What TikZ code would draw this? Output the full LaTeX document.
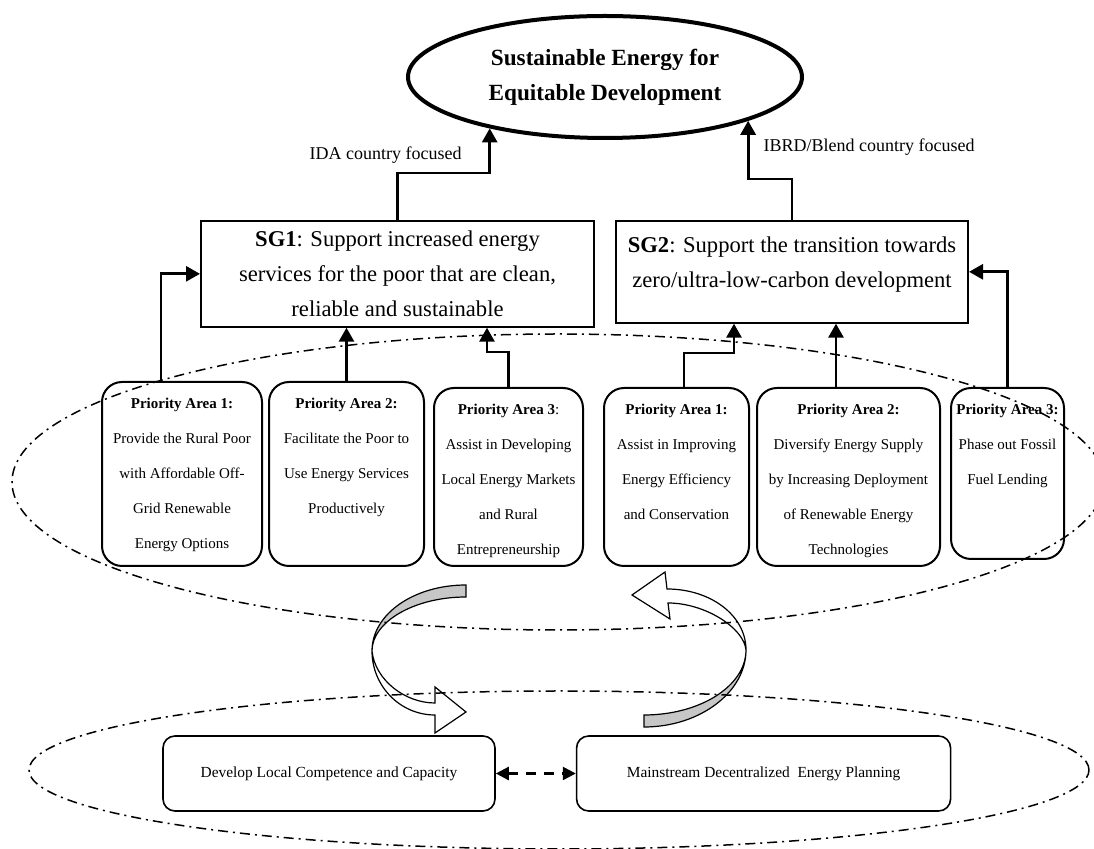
\documentclass[tikz,border=0pt]{standalone}
\usepackage{fontspec}
\setmainfont{Liberation Serif}
\usepackage{tikz}
\usetikzlibrary{arrows.meta,positioning,shapes.geometric}
\newcommand{\patxt}[3]{\parbox[t][\dimexpr#2-16pt\relax][t]{\dimexpr#1-2pt\relax}{\centering #3}}
\tikzset{
    goalell/.style={ellipse, draw, line width=2pt, minimum width=197pt, minimum height=61pt,
                    inner sep=0pt, align=center, font=\fontsize{11.6}{17.5}\selectfont\bfseries},
    sgbox/.style={rectangle, draw, line width=1pt, align=center,
                  font=\fontsize{11.3}{17.5}\selectfont},
    pabox/.style={rectangle, draw, line width=1pt, rounded corners=10pt,
                  inner xsep=1pt, inner ysep=8pt, font=\fontsize{7.5}{17.5}\selectfont},
    basebox/.style={rectangle, draw, line width=0.8pt, rounded corners=6pt,
                    minimum height=37.5pt, align=center, font=\fontsize{7.7}{9}\selectfont},
    arr/.style={-{Triangle[length=7pt,width=7.5pt]}, line width=1.4pt},
    dblarr/.style={{Triangle[length=6.5pt,width=6.5pt]}-{Triangle[length=6.5pt,width=6.5pt]},
                   line width=1.2pt, dash pattern=on 5pt off 4pt},
    lbl/.style={font=\fontsize{9}{11}\selectfont},
    zone/.style={line width=0.75pt, dash pattern=on 5pt off 2.5pt on 1pt off 2.5pt},
    ribbon/.style={line width=0.6pt},
}

\begin{document}
\begin{tikzpicture}[x=0.5pt, y=-0.5pt]
    \useasboundingbox (0,0) rectangle (1094,849);

    % goal and strategic goals
    \node[goalell] (goal) at (605,77) {Sustainable Energy for\\Equitable Development};
    \node[sgbox, minimum width=196.5pt, inner ysep=5pt, text depth=0pt,
          anchor=north] (sg1) at (397.5,220)
        {\textbf{SG1}: Support increased energy\\services for the poor that are clean,\\reliable and sustainable};
    \node[sgbox, minimum width=176pt, inner ysep=8pt, text depth=9.5pt,
          right=10pt of sg1.north east, anchor=north west] (sg2)
        {\textbf{SG2}: Support the transition towards\\zero/ultra-low-carbon development};

    % priority areas
    \node[pabox] (paL1) at (182,474) {\patxt{80pt}{92pt}{\textbf{Priority Area 1:}\\Provide the Rural Poor\\with Affordable Off-\\Grid Renewable\\Energy Options}};
    \node[pabox, right=2.5pt of paL1] (paL2) {\patxt{77.5pt}{92pt}{\textbf{Priority Area 2:}\\Facilitate the Poor to\\Use Energy Services\\Productively}};
    \node[pabox, right=4pt of paL2, yshift=-1.5pt] (paL3) {\patxt{74.5pt}{89pt}{\textbf{Priority Area 3}:\\Assist in Developing\\Local Energy Markets\\and Rural\\Entrepreneurship}};
    \node[pabox, right=9.5pt of paL3] (paR1) {\patxt{72.5pt}{89pt}{\textbf{Priority Area 1:}\\Assist in Improving\\Energy Efficiency\\and Conservation}};
    \node[pabox, right=3pt of paR1] (paR2) {\patxt{91.5pt}{89pt}{\textbf{Priority Area 2:}\\Diversify Energy Supply\\by Increasing Deployment\\of Renewable Energy\\Technologies}};
    \node[pabox, right=4.5pt of paR2, yshift=1.75pt] (paR3) {\patxt{56.5pt}{85.5pt}{\textbf{Priority Area 3:}\\Phase out Fossil\\Fuel Lending}};

    \draw[arr] (sg1.north) -- ++(0,23.5pt) -| (goal.204) node[lbl, pos=0.7, left=10pt] {IDA country focused};
    \draw[arr] (sg2.north) -- ++(0,20.5pt) -| (goal.343) node[lbl, pos=0.77, right=3.7pt] {IBRD/Blend country focused};

    \draw[arr] ([xshift=-10.5pt]paL1.north) |- (sg1.west);
    \draw[arr] (paL2.north) -- (paL2.north |- sg1.south);
    \draw[arr] (paL3.north) -- ++(0,17.5pt) -| ([xshift=44.75pt]sg1.south);
    \draw[arr] ([xshift=3.75pt]paR1.north) -- ++(0,17pt) -| ([xshift=-29pt]sg2.south);
    \draw[arr] ([xshift=-6.25pt]paR2.north) -- ([xshift=-6.25pt]paR2.north |- sg2.south);
    \draw[arr] (paR3.north) |- (sg2.east);

    % turning arrows
    \filldraw[ribbon, fill=black!22] (466,585) .. controls (414,585) and (372,614) .. (372,651)
        .. controls (372,622) and (414,597) .. (466,597) -- cycle;
    \filldraw[ribbon, fill=white] (372,651) .. controls (372,686) and (400,715) .. (435,715)
        -- (435,733) -- (466,712) -- (435,687) -- (435,703)
        .. controls (405,703) and (375,680) .. (372,651) -- cycle;
    \filldraw[ribbon, fill=black!22] (644,715) .. controls (700,715) and (746,686) .. (746,650)
        .. controls (746,692) and (700,727) .. (644,727) -- cycle;
    \filldraw[ribbon, fill=white] (746,650) .. controls (746,615) and (710,589) .. (667,589)
        -- (665,572) -- (632,595) -- (670,619) -- (668,603)
        .. controls (705,603) and (744,628) .. (746,650) -- cycle;

    % capacity building
    \node[basebox, minimum width=166pt] (devbox) at (329,773.5) {Develop Local Competence and Capacity};
    \node[basebox, minimum width=187pt, right=40pt of devbox] (mainbox) {Mainstream Decentralized\ \ Energy Planning};
    \draw[dblarr] (devbox) -- (mainbox);

    \draw[zone] (558,482) ellipse [x radius=273pt, y radius=74pt];
    \draw[zone] (559,770) ellipse [x radius=265pt, y radius=39.5pt];
\end{tikzpicture}
\end{document}
